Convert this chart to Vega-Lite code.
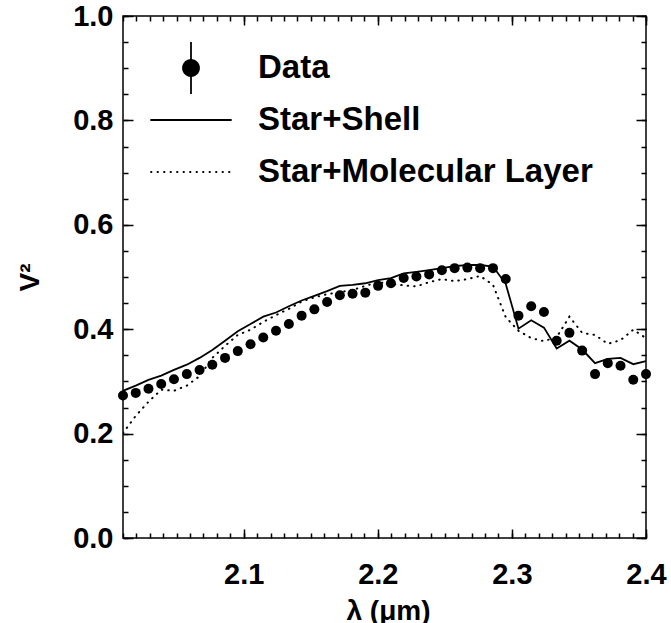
{
  "$schema": "https://vega.github.io/schema/vega-lite/v6.json",
  "width": 523,
  "height": 522,
  "autosize": {"type": "none"},
  "padding": {"left": 123, "top": 16, "right": 25, "bottom": 85},
  "background": "white",
  "datasets": {
    "obs": [
      {"series": "Data", "x": 2.0100, "y": 0.273},
      {"series": "Data", "x": 2.0195, "y": 0.278},
      {"series": "Data", "x": 2.0290, "y": 0.286},
      {"series": "Data", "x": 2.0385, "y": 0.295},
      {"series": "Data", "x": 2.0480, "y": 0.304},
      {"series": "Data", "x": 2.0576, "y": 0.314},
      {"series": "Data", "x": 2.0671, "y": 0.322},
      {"series": "Data", "x": 2.0766, "y": 0.332},
      {"series": "Data", "x": 2.0861, "y": 0.345},
      {"series": "Data", "x": 2.0956, "y": 0.358},
      {"series": "Data", "x": 2.1051, "y": 0.371},
      {"series": "Data", "x": 2.1146, "y": 0.384},
      {"series": "Data", "x": 2.1241, "y": 0.397},
      {"series": "Data", "x": 2.1337, "y": 0.410},
      {"series": "Data", "x": 2.1432, "y": 0.426},
      {"series": "Data", "x": 2.1527, "y": 0.438},
      {"series": "Data", "x": 2.1622, "y": 0.452},
      {"series": "Data", "x": 2.1717, "y": 0.465},
      {"series": "Data", "x": 2.1812, "y": 0.468},
      {"series": "Data", "x": 2.1907, "y": 0.470},
      {"series": "Data", "x": 2.2002, "y": 0.483},
      {"series": "Data", "x": 2.2098, "y": 0.488},
      {"series": "Data", "x": 2.2193, "y": 0.498},
      {"series": "Data", "x": 2.2288, "y": 0.501},
      {"series": "Data", "x": 2.2383, "y": 0.505},
      {"series": "Data", "x": 2.2478, "y": 0.513},
      {"series": "Data", "x": 2.2573, "y": 0.517},
      {"series": "Data", "x": 2.2668, "y": 0.518},
      {"series": "Data", "x": 2.2763, "y": 0.517},
      {"series": "Data", "x": 2.2859, "y": 0.517},
      {"series": "Data", "x": 2.2954, "y": 0.496},
      {"series": "Data", "x": 2.3049, "y": 0.426},
      {"series": "Data", "x": 2.3144, "y": 0.444},
      {"series": "Data", "x": 2.3239, "y": 0.433},
      {"series": "Data", "x": 2.3334, "y": 0.378},
      {"series": "Data", "x": 2.3429, "y": 0.393},
      {"series": "Data", "x": 2.3524, "y": 0.359},
      {"series": "Data", "x": 2.3620, "y": 0.314},
      {"series": "Data", "x": 2.3715, "y": 0.335},
      {"series": "Data", "x": 2.3810, "y": 0.330},
      {"series": "Data", "x": 2.3905, "y": 0.303},
      {"series": "Data", "x": 2.4000, "y": 0.314}
    ],
    "shell": [
      {"series": "Star+Shell", "x": 2.0100, "y": 0.282},
      {"series": "Star+Shell", "x": 2.0195, "y": 0.292},
      {"series": "Star+Shell", "x": 2.0290, "y": 0.303},
      {"series": "Star+Shell", "x": 2.0385, "y": 0.311},
      {"series": "Star+Shell", "x": 2.0480, "y": 0.322},
      {"series": "Star+Shell", "x": 2.0576, "y": 0.332},
      {"series": "Star+Shell", "x": 2.0671, "y": 0.345},
      {"series": "Star+Shell", "x": 2.0766, "y": 0.360},
      {"series": "Star+Shell", "x": 2.0861, "y": 0.378},
      {"series": "Star+Shell", "x": 2.0956, "y": 0.396},
      {"series": "Star+Shell", "x": 2.1051, "y": 0.410},
      {"series": "Star+Shell", "x": 2.1146, "y": 0.424},
      {"series": "Star+Shell", "x": 2.1241, "y": 0.432},
      {"series": "Star+Shell", "x": 2.1337, "y": 0.444},
      {"series": "Star+Shell", "x": 2.1432, "y": 0.455},
      {"series": "Star+Shell", "x": 2.1527, "y": 0.464},
      {"series": "Star+Shell", "x": 2.1622, "y": 0.473},
      {"series": "Star+Shell", "x": 2.1717, "y": 0.483},
      {"series": "Star+Shell", "x": 2.1812, "y": 0.485},
      {"series": "Star+Shell", "x": 2.1907, "y": 0.488},
      {"series": "Star+Shell", "x": 2.2002, "y": 0.494},
      {"series": "Star+Shell", "x": 2.2098, "y": 0.498},
      {"series": "Star+Shell", "x": 2.2193, "y": 0.507},
      {"series": "Star+Shell", "x": 2.2288, "y": 0.510},
      {"series": "Star+Shell", "x": 2.2383, "y": 0.513},
      {"series": "Star+Shell", "x": 2.2478, "y": 0.517},
      {"series": "Star+Shell", "x": 2.2573, "y": 0.521},
      {"series": "Star+Shell", "x": 2.2668, "y": 0.523},
      {"series": "Star+Shell", "x": 2.2763, "y": 0.523},
      {"series": "Star+Shell", "x": 2.2859, "y": 0.520},
      {"series": "Star+Shell", "x": 2.2954, "y": 0.487},
      {"series": "Star+Shell", "x": 2.3049, "y": 0.401},
      {"series": "Star+Shell", "x": 2.3144, "y": 0.417},
      {"series": "Star+Shell", "x": 2.3239, "y": 0.403},
      {"series": "Star+Shell", "x": 2.3334, "y": 0.363},
      {"series": "Star+Shell", "x": 2.3429, "y": 0.378},
      {"series": "Star+Shell", "x": 2.3524, "y": 0.361},
      {"series": "Star+Shell", "x": 2.3620, "y": 0.335},
      {"series": "Star+Shell", "x": 2.3715, "y": 0.343},
      {"series": "Star+Shell", "x": 2.3810, "y": 0.345},
      {"series": "Star+Shell", "x": 2.3905, "y": 0.333},
      {"series": "Star+Shell", "x": 2.4000, "y": 0.339}
    ],
    "layer": [
      {"series": "Star+Molecular Layer", "x": 2.0100, "y": 0.201},
      {"series": "Star+Molecular Layer", "x": 2.0195, "y": 0.234},
      {"series": "Star+Molecular Layer", "x": 2.0290, "y": 0.261},
      {"series": "Star+Molecular Layer", "x": 2.0385, "y": 0.284},
      {"series": "Star+Molecular Layer", "x": 2.0480, "y": 0.282},
      {"series": "Star+Molecular Layer", "x": 2.0576, "y": 0.292},
      {"series": "Star+Molecular Layer", "x": 2.0671, "y": 0.310},
      {"series": "Star+Molecular Layer", "x": 2.0766, "y": 0.345},
      {"series": "Star+Molecular Layer", "x": 2.0861, "y": 0.368},
      {"series": "Star+Molecular Layer", "x": 2.0956, "y": 0.389},
      {"series": "Star+Molecular Layer", "x": 2.1051, "y": 0.399},
      {"series": "Star+Molecular Layer", "x": 2.1146, "y": 0.414},
      {"series": "Star+Molecular Layer", "x": 2.1241, "y": 0.427},
      {"series": "Star+Molecular Layer", "x": 2.1337, "y": 0.439},
      {"series": "Star+Molecular Layer", "x": 2.1432, "y": 0.453},
      {"series": "Star+Molecular Layer", "x": 2.1527, "y": 0.461},
      {"series": "Star+Molecular Layer", "x": 2.1622, "y": 0.467},
      {"series": "Star+Molecular Layer", "x": 2.1717, "y": 0.471},
      {"series": "Star+Molecular Layer", "x": 2.1812, "y": 0.475},
      {"series": "Star+Molecular Layer", "x": 2.1907, "y": 0.483},
      {"series": "Star+Molecular Layer", "x": 2.2002, "y": 0.490},
      {"series": "Star+Molecular Layer", "x": 2.2098, "y": 0.487},
      {"series": "Star+Molecular Layer", "x": 2.2193, "y": 0.484},
      {"series": "Star+Molecular Layer", "x": 2.2288, "y": 0.482},
      {"series": "Star+Molecular Layer", "x": 2.2383, "y": 0.490},
      {"series": "Star+Molecular Layer", "x": 2.2478, "y": 0.496},
      {"series": "Star+Molecular Layer", "x": 2.2573, "y": 0.492},
      {"series": "Star+Molecular Layer", "x": 2.2668, "y": 0.496},
      {"series": "Star+Molecular Layer", "x": 2.2763, "y": 0.502},
      {"series": "Star+Molecular Layer", "x": 2.2859, "y": 0.485},
      {"series": "Star+Molecular Layer", "x": 2.2954, "y": 0.423},
      {"series": "Star+Molecular Layer", "x": 2.3049, "y": 0.397},
      {"series": "Star+Molecular Layer", "x": 2.3144, "y": 0.383},
      {"series": "Star+Molecular Layer", "x": 2.3239, "y": 0.377},
      {"series": "Star+Molecular Layer", "x": 2.3334, "y": 0.385},
      {"series": "Star+Molecular Layer", "x": 2.3429, "y": 0.424},
      {"series": "Star+Molecular Layer", "x": 2.3524, "y": 0.393},
      {"series": "Star+Molecular Layer", "x": 2.3620, "y": 0.389},
      {"series": "Star+Molecular Layer", "x": 2.3715, "y": 0.372},
      {"series": "Star+Molecular Layer", "x": 2.3810, "y": 0.379},
      {"series": "Star+Molecular Layer", "x": 2.3905, "y": 0.399},
      {"series": "Star+Molecular Layer", "x": 2.4000, "y": 0.383}
    ]
  },
  "resolve": {"axis": {"x": "independent", "y": "independent"}},
  "layer": [
    {
      "data": {"name": "shell"},
      "mark": {"type": "line", "color": "black", "strokeWidth": 1.8, "clip": true},
      "encoding": {
        "x": {"field": "x", "type": "quantitative",
              "scale": {"domain": [2.01, 2.40], "nice": false, "zero": false},
              "axis": {"orient": "bottom", "values": [2.01,2.02,2.03,2.04,2.05,2.06,2.07,2.08,2.09,2.1,2.11,2.12,2.13,2.14,2.15,2.16,2.17,2.18,2.19,2.2,2.21,2.22,2.23,2.24,2.25,2.26,2.27,2.28,2.29,2.3,2.31,2.32,2.33,2.34,2.35,2.36,2.37,2.38,2.39,2.4],
                       "labels": false, "tickSize": -5, "title": null}},
        "y": {"field": "y", "type": "quantitative",
              "scale": {"domain": [0, 1], "nice": false, "zero": false},
              "axis": {"orient": "left", "values": [0,0.05,0.1,0.15,0.2,0.25,0.3,0.35,0.4,0.45,0.5,0.55,0.6,0.65,0.7,0.75,0.8,0.85,0.9,0.95,1],
                       "labels": false, "tickSize": -5, "title": null}}
      }
    },
    {
      "data": {"name": "layer"},
      "mark": {"type": "line", "color": "black", "strokeWidth": 2, "strokeDash": [0.5, 6], "strokeCap": "round", "clip": true},
      "encoding": {
        "x": {"field": "x", "type": "quantitative",
              "axis": {"orient": "top", "values": [2.1, 2.2, 2.3, 2.4], "labels": false, "tickSize": -9, "title": null}},
        "y": {"field": "y", "type": "quantitative",
              "axis": {"orient": "right", "values": [0, 0.2, 0.4, 0.6, 0.8, 1.0], "labels": false, "tickSize": -10, "title": null}}
      }
    },
    {
      "data": {"name": "obs"},
      "mark": {"type": "circle", "size": 100, "opacity": 0},
      "encoding": {
        "x": {"field": "x", "type": "quantitative",
              "axis": {"orient": "top", "values": [2.01,2.02,2.03,2.04,2.05,2.06,2.07,2.08,2.09,2.1,2.11,2.12,2.13,2.14,2.15,2.16,2.17,2.18,2.19,2.2,2.21,2.22,2.23,2.24,2.25,2.26,2.27,2.28,2.29,2.3,2.31,2.32,2.33,2.34,2.35,2.36,2.37,2.38,2.39,2.4],
                       "labels": false, "tickSize": -5, "title": null}},
        "y": {"field": "y", "type": "quantitative",
              "axis": {"orient": "right", "values": [0,0.05,0.1,0.15,0.2,0.25,0.3,0.35,0.4,0.45,0.5,0.55,0.6,0.65,0.7,0.75,0.8,0.85,0.9,0.95,1],
                       "labels": false, "tickSize": -5, "title": null}}
      }
    },
    {
      "data": {"name": "obs"},
      "mark": {"type": "circle", "size": 100, "opacity": 1},
      "encoding": {
        "x": {"field": "x", "type": "quantitative",
              "axis": {"orient": "bottom", "values": [2.1, 2.2, 2.3, 2.4], "tickSize": -9, "labelPadding": 31,
                       "labelFlush": false, "labelOverlap": false, "labelBound": false,
                       "title": "λ (μm)", "titleY": 73, "titleX": 265, "titleBaseline": "middle", "titleAlign": "center"}},
        "y": {"field": "y", "type": "quantitative",
              "axis": {"orient": "left", "values": [0, 0.2, 0.4, 0.6, 0.8, 1.0], "format": ".1f", "tickSize": -10, "labelPadding": 20,
                       "labelOverlap": false, "labelBound": false,
                       "title": "V²", "titleX": -93, "titleY": 261, "titleBaseline": "middle", "titleAlign": "center", "titleAngle": 270}},
        "color": {"field": "series", "type": "nominal",
                  "scale": {"domain": ["Data", "Star+Shell", "Star+Molecular Layer"], "range": ["black", "black", "black"]},
                  "legend": {"orient": "none", "legendX": 27, "legendY": 26, "title": null, "padding": 0,
                             "symbolSize": 6400, "symbolStrokeWidth": 1.8, "clipHeight": 52, "rowPadding": 0, "labelOffset": 26,
                             "labelFont": "Liberation Sans", "labelFontSize": 33, "labelFontWeight": "bold",
                             "labelColor": "black", "labelBaseline": "middle", "labelLimit": 0,
                             "encoding": {"symbols": {
                               "shape": {"value": {"expr": "datum.value === 'Data' ? 'M0,-0.64L0,0.64M0.2,0A0.2,0.2 0 1,1 -0.2,0A0.2,0.2 0 1,1 0.2,0Z' : 'M-1,0L1,0'"}},
                               "strokeDash": {"value": {"expr": "datum.value === 'Star+Molecular Layer' ? [0.5, 6] : [1, 0]"}},
                               "strokeCap": {"value": "round"},
                               "stroke": {"value": "black"},
                               "strokeWidth": {"value": 1.8},
                               "opacity": {"value": 1},
                               "strokeOpacity": {"value": 1}
                             }}}}
      }
    }
  ],
  "config": {
    "view": {"stroke": "black", "strokeWidth": 1.5},
    "axis": {"grid": false, "domain": false, "tickColor": "black", "tickWidth": 1.5,
             "labelColor": "black", "labelFont": "Liberation Sans", "labelFontWeight": "bold", "labelFontSize": 29,
             "titleColor": "black", "titleFont": "Liberation Sans", "titleFontWeight": "bold", "titleFontSize": 28}
  }
}
